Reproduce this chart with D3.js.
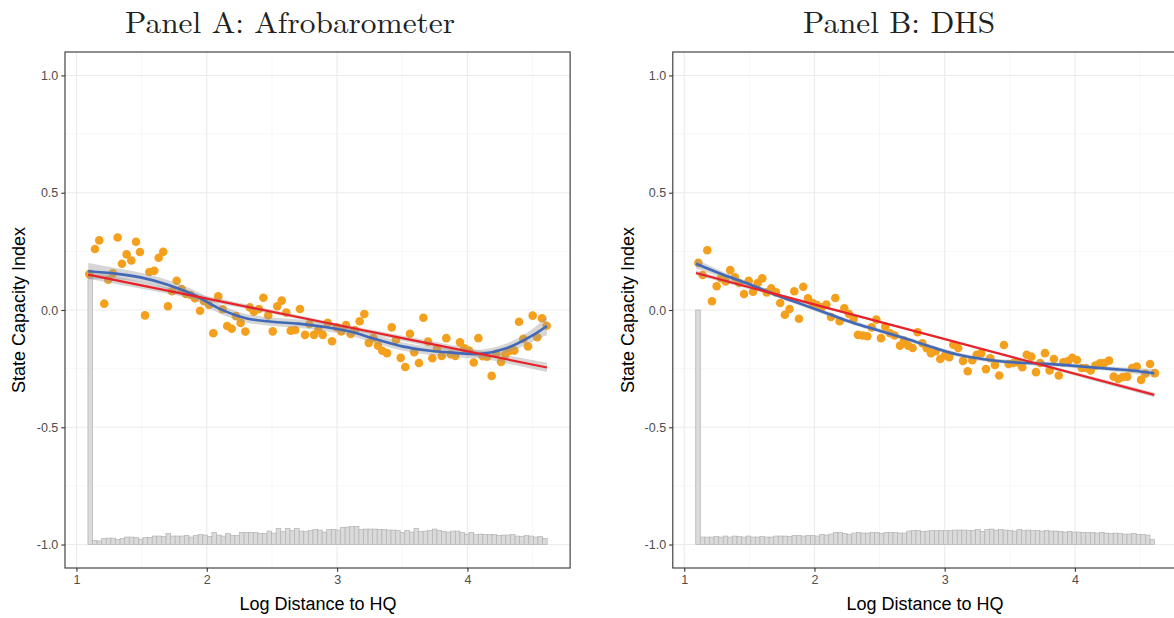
<!DOCTYPE html>
<html>
<head>
<meta charset="utf-8">
<script src="https://cdn.jsdelivr.net/npm/d3@7"></script>
<style>
  html, body { margin: 0; padding: 0; background: #fff; }
  svg { display: block; }
</style>
</head>
<body>
<svg id="chart" width="1174" height="618"></svg>
<script>
// ---------------- DATA ----------------
const panelTitles = ["Panel A: Afrobarometer", "Panel B: DHS"];
const xTicks = [1, 2, 3, 4];
const yTicks = [-1.0, -0.5, 0.0, 0.5, 1.0];
const yTickLabels = ["-1.0", "-0.5", "0.0", "0.5", "1.0"];
const xTitle = "Log Distance to HQ";
const yTitle = "State Capacity Index";

// Panel A binned scatter
const pointsAx = [1.098,1.142,1.175,1.213,1.244,1.278,1.316,1.349,1.385,1.421,1.457,1.487,1.526,1.559,1.597,1.631,1.666,1.702,1.733,1.769,1.807,1.840,1.876,1.909,1.948,1.978,2.017,2.050,2.088,2.122,2.157,2.191,2.224,2.260,2.296,2.331,2.362,2.401,2.434,2.472,2.506,2.541,2.575,2.610,2.644,2.679,2.715,2.754,2.787,2.823,2.856,2.890,2.928,2.961,2.997,3.032,3.068,3.104,3.137,3.173,3.209,3.243,3.278,3.314,3.347,3.383,3.419,3.452,3.488,3.523,3.559,3.592,3.628,3.662,3.698,3.731,3.767,3.803,3.838,3.872,3.907,3.943,3.976,4.012,4.048,4.084,4.117,4.150,4.186,4.222,4.258,4.291,4.327,4.360,4.396,4.429,4.465,4.501,4.536,4.572,4.608];
const pointsAy = [0.153,0.260,0.297,0.027,0.129,0.156,0.309,0.197,0.237,0.211,0.291,0.247,-0.023,0.162,0.167,0.223,0.248,0.016,0.080,0.125,0.089,0.068,0.064,0.050,-0.003,0.037,0.021,-0.099,0.058,0.003,-0.068,-0.080,-0.026,-0.055,-0.092,0.011,-0.007,0.004,0.052,-0.023,-0.091,0.016,0.040,-0.011,-0.088,-0.085,0.004,-0.106,-0.060,-0.106,-0.085,-0.106,-0.055,-0.133,-0.074,-0.091,-0.064,-0.102,-0.085,-0.048,-0.017,-0.140,-0.119,-0.152,-0.174,-0.184,-0.074,-0.128,-0.204,-0.243,-0.101,-0.180,-0.226,-0.033,-0.135,-0.206,-0.163,-0.196,-0.120,-0.189,-0.196,-0.138,-0.163,-0.173,-0.224,-0.120,-0.197,-0.199,-0.281,-0.187,-0.221,-0.190,-0.174,-0.173,-0.050,-0.123,-0.155,-0.024,-0.116,-0.035,-0.067];

// Panel B binned scatter
const pointsBx = [1.108,1.141,1.177,1.213,1.249,1.282,1.318,1.353,1.389,1.422,1.459,1.495,1.528,1.564,1.599,1.633,1.668,1.704,1.737,1.773,1.809,1.845,1.881,1.914,1.950,1.986,2.019,2.055,2.091,2.127,2.160,2.193,2.229,2.265,2.301,2.334,2.370,2.406,2.439,2.475,2.511,2.544,2.580,2.616,2.657,2.687,2.720,2.754,2.792,2.828,2.862,2.895,2.931,2.966,3.002,3.035,3.066,3.104,3.141,3.177,3.212,3.246,3.281,3.317,3.350,3.386,3.419,3.455,3.491,3.527,3.561,3.596,3.630,3.665,3.701,3.734,3.770,3.806,3.839,3.876,3.911,3.947,3.980,4.016,4.052,4.085,4.121,4.157,4.193,4.226,4.262,4.298,4.333,4.367,4.402,4.439,4.475,4.508,4.541,4.577,4.615];
const pointsBy = [0.201,0.149,0.255,0.037,0.101,0.136,0.122,0.170,0.139,0.115,0.068,0.125,0.078,0.115,0.135,0.075,0.092,0.075,0.030,-0.020,0.004,0.080,-0.037,0.099,0.050,0.030,0.021,0.011,0.023,-0.030,0.051,-0.048,0.007,-0.017,-0.038,-0.106,-0.109,-0.112,-0.074,-0.041,-0.120,-0.071,-0.099,-0.109,-0.152,-0.130,-0.152,-0.162,-0.095,-0.142,-0.163,-0.184,-0.176,-0.209,-0.194,-0.201,-0.148,-0.162,-0.217,-0.261,-0.214,-0.191,-0.184,-0.252,-0.206,-0.234,-0.279,-0.149,-0.230,-0.226,-0.223,-0.244,-0.191,-0.199,-0.265,-0.226,-0.184,-0.258,-0.209,-0.279,-0.223,-0.218,-0.204,-0.213,-0.247,-0.247,-0.258,-0.237,-0.227,-0.226,-0.216,-0.284,-0.294,-0.286,-0.284,-0.248,-0.241,-0.298,-0.272,-0.230,-0.269];

// Loess smooth (blue) with standard-error band half-width
const smoothX  = [1.09,1.3,1.5,1.7,1.9,2.1,2.3,2.5,2.7,2.9,3.1,3.3,3.5,3.7,3.9,4.1,4.3,4.5,4.61];
const smoothAy = [0.165,0.155,0.138,0.108,0.065,0.005,-0.035,-0.05,-0.058,-0.072,-0.092,-0.125,-0.155,-0.173,-0.183,-0.187,-0.163,-0.108,-0.068];
const smoothAse= [0.035,0.024,0.020,0.020,0.020,0.020,0.018,0.018,0.018,0.018,0.018,0.018,0.018,0.018,0.018,0.018,0.020,0.027,0.040];
const smoothBy = [0.197,0.150,0.110,0.065,0.025,-0.015,-0.055,-0.088,-0.122,-0.158,-0.190,-0.210,-0.222,-0.228,-0.234,-0.243,-0.252,-0.262,-0.270];
const smoothBse= [0.020,0.012,0.010,0.009,0.009,0.009,0.009,0.009,0.009,0.009,0.009,0.009,0.009,0.009,0.009,0.009,0.010,0.013,0.018];

// Linear fit (red) with SE band
const lmX  = [1.09, 2.85, 4.61];
const lmAy = [0.151, -0.047, -0.245];
const lmAse= [0.018, 0.008, 0.020];
const lmBy = [0.158, -0.102, -0.362];
const lmBse= [0.010, 0.004, 0.010];

// Histogram of distance (100 bins from 1.088 to 4.612), heights in frequency units
const histStart = 1.088, histEnd = 4.612;
const histA = [275,4,3.5,6,6.5,6.5,5,6,7.5,7.5, 7,5.5,7,7,8.5,8.5,8,11,8.5,8.5, 8.5,9,7.5,9,10,9.5,8,12,9.5,8.5, 11,9,9,12,12,12,12,11,11,13.5, 11.5,16,13,16,14,16,13.5,13,14,15, 14.5,12.5,15,15,14.5,17,17.5,18,18,15, 15.5,15.5,15.5,15,15,14.5,14.5,14,12,14, 12.5,16,13,13.5,14,15.5,14,13,12.5,13.5, 13.5,12,10.5,12,10,10.5,10,10,10,9, 9.5,9.5,10,8.5,8,9,8.5,7.5,8,6];
const histB = [235,7.5,7.5,7.5,8,7.5,8.5,7.5,8.5,8, 7.5,8.5,7.5,7.5,8,7.5,7.5,8.5,8.5,8.5, 8,9,9,8.5,9,9,8.5,10,9.5,10.5, 12,12,11,10,11.5,12,11.5,11.5,12,12, 11,12,12,12,11.5,11.5,13.5,14,14,13, 13.5,14,14,14,14,14,14.5,14.5,14.5,14, 14,15,13,15,15.5,14.5,15,14.5,14,13.5, 15,14,14.5,14,14,13.5,14,13.5,13.5,13, 12.5,13,12.5,12.5,12,12,12,11.5,12,11.5, 11,11.5,11,10.5,10.5,11,10,10,9.5,5];
const histBase = -1.0;
const histUnit = 0.004255; // index units per frequency unit

// ---------------- LAYOUT ----------------
(function () {
const svg = d3.select("#chart");
svg.append("rect").attr("width",1174).attr("height",618).attr("fill","#fff");

const panels = [
  {title: panelTitles[0], left: 65, right: 570.1, titleX: 290, titleW: 330, ytX: 18, xtX: 318,
   px: pointsAx, py: pointsAy, sy: smoothAy, sse: smoothAse, ly: lmAy, lse: lmAse, hist: histA},
  {title: panelTitles[1], left: 672.8, right: 1177.5, titleX: 899, titleW: 192, ytX: 627, xtX: 925,
   px: pointsBx, py: pointsBy, sy: smoothBy, sse: smoothBse, ly: lmBy, lse: lmBse, hist: histB}
];
const pTop = 52, pBottom = 568;
const xDomain = [0.912, 4.788];
const yDomain = [-1.1, 1.1];

const font = "'Liberation Sans', Arial, sans-serif";

panels.forEach((p, pi) => {
  const x = d3.scaleLinear().domain(xDomain).range([p.left, p.right]);
  const y = d3.scaleLinear().domain(yDomain).range([pBottom, pTop]);
  const clipId = "clip" + pi;
  svg.append("clipPath").attr("id", clipId).append("rect")
    .attr("x", p.left).attr("y", pTop).attr("width", p.right - p.left).attr("height", pBottom - pTop);

  const g = svg.append("g");
  const plot = g.append("g").attr("clip-path", `url(#${clipId})`);

  const xMinor = [1.5, 2.5, 3.5, 4.5];
  const yMinor = [-0.75, -0.25, 0.25, 0.75];
  plot.selectAll(".xminor").data(xMinor).join("line")
    .attr("x1", d => x(d)).attr("x2", d => x(d)).attr("y1", pTop).attr("y2", pBottom)
    .attr("stroke", "#f2f2f2").attr("stroke-width", 0.6);
  plot.selectAll(".yminor").data(yMinor).join("line")
    .attr("y1", d => y(d)).attr("y2", d => y(d)).attr("x1", p.left).attr("x2", p.right)
    .attr("stroke", "#f2f2f2").attr("stroke-width", 0.6);
  plot.selectAll(".xmajor").data(xTicks).join("line")
    .attr("x1", d => x(d)).attr("x2", d => x(d)).attr("y1", pTop).attr("y2", pBottom)
    .attr("stroke", "#ebebeb").attr("stroke-width", 1.1);
  plot.selectAll(".ymajor").data(yTicks).join("line")
    .attr("y1", d => y(d)).attr("y2", d => y(d)).attr("x1", p.left).attr("x2", p.right)
    .attr("stroke", "#ebebeb").attr("stroke-width", 1.1);

  const bw = (histEnd - histStart) / p.hist.length;
  plot.selectAll(".bar").data(p.hist).join("rect")
    .attr("x", (d, i) => x(histStart + i * bw))
    .attr("width", x(histStart + bw) - x(histStart))
    .attr("y", d => y(histBase + d * histUnit))
    .attr("height", d => y(histBase) - y(histBase + d * histUnit))
    .attr("fill", "#dadada").attr("stroke", "#b3b3b3").attr("stroke-width", 0.7);

  plot.selectAll(".pt").data(p.px.map((v, i) => [v, p.py[i]])).join("circle")
    .attr("cx", d => x(d[0])).attr("cy", d => y(d[1])).attr("r", 4.3)
    .attr("fill", "#f5a01c");

  const rib = (xs, ys, se) => d3.area().curve(d3.curveCatmullRom)
    .x((d, i) => x(xs[i])).y0((d, i) => y(ys[i] - se[i])).y1((d, i) => y(ys[i] + se[i]))(xs);
  plot.append("path").attr("d", rib(lmX, p.ly, p.lse)).attr("fill", "#999").attr("opacity", 0.4);
  plot.append("path").attr("d", rib(smoothX, p.sy, p.sse)).attr("fill", "#999").attr("opacity", 0.4);

  const ln = (xs, ys) => d3.line().curve(d3.curveCatmullRom).x((d, i) => x(xs[i])).y((d, i) => y(ys[i]))(xs);
  plot.append("path").attr("d", ln(smoothX, p.sy)).attr("fill", "none")
    .attr("stroke", "#4169b8").attr("stroke-width", 2.6);
  plot.append("path").attr("d", ln(lmX, p.ly)).attr("fill", "none")
    .attr("stroke", "#e8222a").attr("stroke-width", 2.2);

  g.append("rect").attr("x", p.left).attr("y", pTop)
    .attr("width", p.right - p.left).attr("height", pBottom - pTop)
    .attr("fill", "none").attr("stroke", "#333").attr("stroke-width", 1.1);

  const xAxis = g.append("g").attr("transform", `translate(0,${pBottom})`)
    .call(d3.axisBottom(x).tickValues(xTicks).tickFormat(d3.format("d")).tickSize(3.7).tickPadding(3));
  const yAxis = g.append("g").attr("transform", `translate(${p.left},0)`)
    .call(d3.axisLeft(y).tickValues(yTicks).tickFormat((d, i) => yTickLabels[i]).tickSize(3.7).tickPadding(3));
  [xAxis, yAxis].forEach(a => {
    a.select(".domain").remove();
    a.selectAll(".tick line").attr("stroke", "#333").attr("stroke-width", 1.1);
    a.selectAll(".tick text").attr("fill", "#4d4d4d").style("font-family", font).style("font-size", "12.5px");
  });

  g.append("text").attr("x", p.titleX).attr("y", 33).attr("text-anchor", "middle")
    .attr("textLength", p.titleW).attr("lengthAdjust", "spacingAndGlyphs")
    .style("font-family", "'Latin Modern Roman','CMU Serif','Liberation Serif','DejaVu Serif',serif")
    .style("font-size", "30px").attr("fill", "#222").text(p.title);
  g.append("text").attr("x", p.xtX).attr("y", 610).attr("text-anchor", "middle")
    .style("font-family", font).style("font-size", "18px").attr("fill", "#000").text(xTitle);
  g.append("text").attr("transform", `translate(${p.ytX + 7},${(pTop + pBottom) / 2}) rotate(-90)`)
    .attr("text-anchor", "middle")
    .style("font-family", font).style("font-size", "18px").attr("fill", "#000").text(yTitle);
});
})();
</script>
</body>
</html>
